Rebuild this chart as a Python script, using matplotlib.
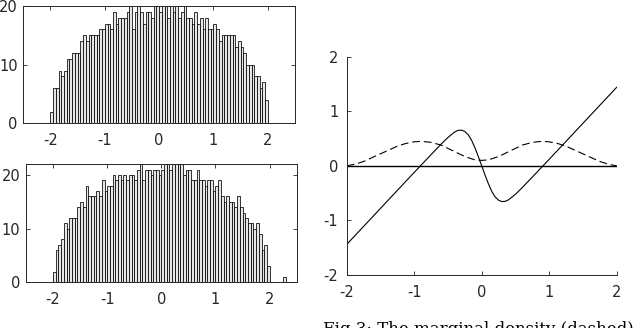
import numpy as np
import matplotlib
matplotlib.use("Agg")
import matplotlib.pyplot as plt

plt.rcParams['axes.unicode_minus'] = False
plt.rcParams['font.family'] = ['DejaVu Sans']

# ---------------- data ----------------
bin_start = -2.0
bin_width = 0.05

counts_top = [2, 6, 6, 9, 8, 9, 11, 11, 12, 12, 12, 14, 15, 14, 15, 15, 15, 15, 16, 16,
              17, 17, 16, 19, 17, 18, 18,
              18, 19, 20, 16, 19, 20, 19, 17, 19, 19, 18, 20, 20, 19, 20, 20, 18, 20, 19,
              20, 18, 19, 20, 18, 18, 17,
              19, 17, 18, 16, 18, 16, 16, 17, 16, 14, 15, 15, 15, 15, 15, 13, 14, 13, 12,
              10, 10, 10, 8, 8, 6, 7, 4]

counts_bottom = [2, 6, 7, 8, 11, 10, 12, 12, 12, 14, 15, 14, 18, 16, 16, 16, 17, 16, 19, 17,
                 18, 18, 20, 19, 20, 19, 20,
                 19, 20, 20, 19, 21, 22, 19, 21, 21, 20, 21, 21, 20, 21, 22, 22, 21, 22, 22,
                 22, 22, 20, 21, 21, 19, 19,
                 21, 19, 19, 18, 19, 19, 17, 18, 19, 16, 15, 16, 15, 15, 14, 16, 14, 13, 12,
                 11, 11, 10, 11, 9, 6, 7, 3,
                 0, 0, 0, 0, 0, 1]

x_solid = [-2, -1.75, -1.5, -1.25, -1, -0.9, -0.8, -0.7, -0.6, -0.5, -0.4, -0.35, -0.3,
           -0.25, -0.2, -0.15, -0.1, -0.05, 0, 0.05, 0.1, 0.15, 0.2, 0.25, 0.3, 0.35, 0.4,
           0.5, 0.6, 0.7, 0.8, 0.9, 1, 1.25, 1.5, 1.75, 2]
y_solid = [-1.44, -1.11, -0.78, -0.45, -0.12, 0.01, 0.14, 0.27, 0.40, 0.52, 0.62, 0.65, 0.655,
           0.63, 0.57, 0.47, 0.33, 0.17, 0.0, -0.17, -0.33, -0.47, -0.57, -0.63, -0.655, -0.65,
           -0.62, -0.52, -0.40, -0.27, -0.14, -0.01, 0.12, 0.45, 0.78, 1.11, 1.44]

x_dashed = [-2, -1.875, -1.75, -1.625, -1.5, -1.375, -1.25, -1.125, -1, -0.9, -0.75, -0.6,
            -0.5, -0.4, -0.3, -0.2, -0.1, 0, 0.1, 0.2, 0.3, 0.4, 0.5, 0.6, 0.75, 0.9, 1,
            1.125, 1.25, 1.375, 1.5, 1.625, 1.75, 1.875, 2]
y_dashed = [0.0, 0.03, 0.08, 0.15, 0.22, 0.29, 0.36, 0.41, 0.44, 0.45, 0.43, 0.38,
            0.32, 0.26, 0.20, 0.15, 0.11, 0.10, 0.11, 0.15, 0.20, 0.26, 0.32, 0.38, 0.43, 0.45,
            0.44, 0.41, 0.36, 0.29, 0.22, 0.15, 0.08, 0.03, 0.0]

x_zero = [-2, 2]
y_zero = [0, 0]

hist_xticks = [-2, -1, 0, 1, 2]
hist_yticks = [0, 10, 20]
line_ticks = [-2, -1, 0, 1, 2]

caption = "Fig 3: The marginal density (dashed) and"

# ---------------- figure ----------------
fig = plt.figure(figsize=(6.4, 3.28), dpi=100)
W, H = 640.0, 328.0

def axes_px(l, t, r, b):
    return fig.add_axes([l / W, 1 - b / H, (r - l) / W, (b - t) / H])

frame_col = '#262626'
fs = 10.5

def draw_hist(ax, counts, ymax):
    edges = bin_start + bin_width * np.arange(len(counts))
    ax.bar(edges, counts, width=bin_width, align='edge',
           color='#e6e6e6', edgecolor='black', linewidth=0.55)
    ax.set_xlim(-2.5, 2.5)
    ax.set_ylim(0, ymax)
    ax.set_xticks(hist_xticks)
    ax.set_yticks(hist_yticks)
    ax.tick_params(direction='in', length=3, width=0.6, colors=frame_col,
                   labelsize=fs, top=True, right=True)
    ax.tick_params(axis='x', pad=7)
    ax.tick_params(axis='y', pad=4)
    for s in ax.spines.values():
        s.set_color(frame_col)
        s.set_linewidth(0.7)

ax1 = axes_px(23.3, 6, 295, 123.3)
draw_hist(ax1, counts_top, 20)

ax2 = axes_px(26, 164.3, 296.7, 282.3)
draw_hist(ax2, counts_bottom, 22)

ax3 = axes_px(346.7, 56.7, 616.7, 275)
ax3.plot(x_zero, y_zero, color='black', linewidth=1.0)
ax3.plot(x_dashed, y_dashed, color='black', linewidth=0.8, dashes=(7, 3.5))
ax3.plot(x_solid, y_solid, color='black', linewidth=0.8)
ax3.set_xlim(-2, 2)
ax3.set_ylim(-2, 2)
ax3.set_xticks(line_ticks)
ax3.set_yticks(line_ticks)
ax3.spines['top'].set_visible(False)
ax3.spines['right'].set_visible(False)
for s in ('left', 'bottom'):
    ax3.spines[s].set_color(frame_col)
    ax3.spines[s].set_linewidth(0.7)
ax3.tick_params(direction='in', length=3, width=0.6, colors=frame_col, labelsize=fs)
ax3.tick_params(axis='x', pad=7)
ax3.tick_params(axis='y', pad=6)

fig.text(323 / W, -6 / H, caption, fontsize=12.0, family=['DejaVu Serif'],
         ha='left', va='baseline', color='black')

fig.savefig('out.png', dpi=100)
